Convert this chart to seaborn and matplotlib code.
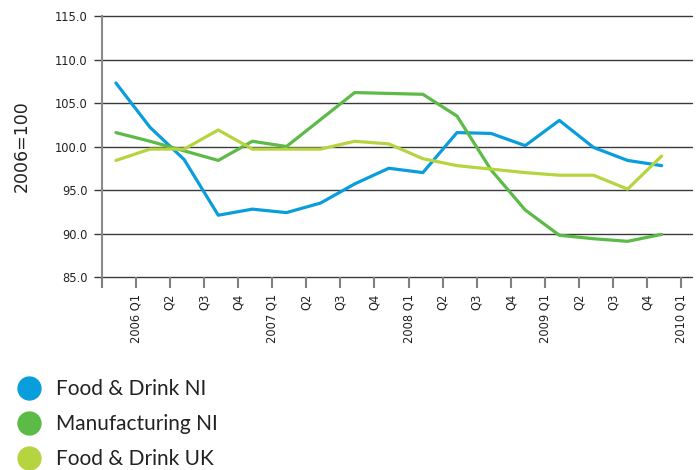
import numpy as np
import pandas as pd
import matplotlib
matplotlib.use("Agg")
import matplotlib.pyplot as plt
from matplotlib.lines import Line2D
import seaborn as sns

# Quarterly index values, 2006 = 100
quarter_labels = ["2006 Q1", "Q2", "Q3", "Q4",
                  "2007 Q1", "Q2", "Q3", "Q4",
                  "2008 Q1", "Q2", "Q3", "Q4",
                  "2009 Q1", "Q2", "Q3", "Q4",
                  "2010 Q1"]
series_names = ["Food & Drink NI", "Manufacturing NI", "Food & Drink UK"]
food_drink_ni = [107.3, 102.2, 98.5, 92.1, 92.8, 92.4, 93.5, 95.7, 97.5,
                 97.0, 101.6, 101.5, 100.1, 103.0, 99.9, 98.4, 97.8]
manufacturing_ni = [101.6, 100.6, 99.5, 98.4, 100.6, 100.0, 103.1, 106.2,
                    106.1, 106.0, 103.5, 97.3, 92.7, 89.8, 89.4, 89.1, 89.9]
food_drink_uk = [98.4, 99.7, 99.7, 101.9, 99.7, 99.7, 99.7, 100.6, 100.3,
                 98.6, 97.8, 97.4, 97.0, 96.7, 96.7, 95.1, 98.9]
colors = ["#0a9ddb", "#5cba47", "#b6d43f"]

values = [food_drink_ni, manufacturing_ni, food_drink_uk]
frames = []
for name, vals in zip(series_names, values):
    frames.append(pd.DataFrame({"idx": np.arange(len(vals)),
                                "value": vals,
                                "series": name}))
df = pd.concat(frames, ignore_index=True)

sns.set_theme(style="white")
plt.rcParams["font.family"] = ["DejaVu Sans"]

W, H = 699, 470
fig = plt.figure(figsize=(W / 100, H / 100), dpi=100)
ax = fig.add_axes([101.6 / W, 1 - 277 / H, (692 - 101.6) / W, (277 - 16) / H])

# Horizontal gridlines behind the data
for yv in np.arange(85, 116, 5):
    ax.axhline(yv, color="#3a3a3a", lw=1.0, zorder=0, clip_on=False)

sns.lineplot(data=df, x="idx", y="value", hue="series",
             palette=dict(zip(series_names, colors)),
             hue_order=series_names, linewidth=2.3, legend=False,
             ax=ax, zorder=3)

# Category ticks sit between the plotted quarters
tick_pos = np.arange(-1, len(quarter_labels)) + 0.58
ax.set_xlim(-0.42, 16.89)
ax.set_xticks(tick_pos)
ax.set_xticklabels([""] + quarter_labels, rotation=90, fontsize=8.3,
                   color="#222222")
ax.tick_params(axis="x", direction="out", length=8, width=1.5,
               color="#808080", pad=4, bottom=True)

ax.set_ylim(85, 115)
ax.set_yticks(np.arange(85, 116, 5))
ax.set_yticklabels([f"{v:.1f}" for v in np.arange(85, 116, 5)],
                   fontsize=8.3, color="#222222")
ax.tick_params(axis="y", direction="out", length=6, width=1.0,
               color="#3a3a3a", pad=4, left=True)

for s in ["top", "right"]:
    ax.spines[s].set_visible(False)
ax.spines["bottom"].set_visible(False)
ax.spines["left"].set_color("#8a8a8a")
ax.spines["left"].set_linewidth(1.5)
ax.spines["left"].set_bounds(85, 115)

ax.set_xlabel("")
ax.set_ylabel("2006=100", fontsize=12.5, color="#222222")
ax.yaxis.label.set_va("center")
ax.yaxis.set_label_coords((22 - 101.6) / (692 - 101.6), 0.5)

handles = [Line2D([], [], marker="o", ls="", markersize=16.5,
                  markerfacecolor=c, markeredgecolor=c) for c in colors]
leg = fig.legend(handles, series_names, loc="upper left",
                 bbox_to_anchor=(17 / W, 1 - 379 / H),
                 frameon=False, borderpad=0, borderaxespad=0,
                 handlelength=1.15, handletextpad=0.72, labelspacing=0.72,
                 prop={"family": ["Lato", "DejaVu Sans"], "size": 15})
for t in leg.get_texts():
    t.set_color("#222222")

fig.savefig("out.png", dpi=100)
